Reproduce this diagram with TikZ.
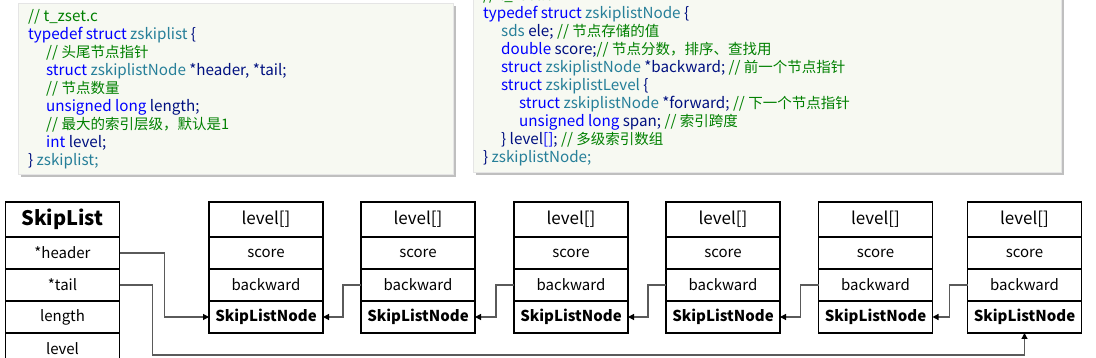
\documentclass[tikz,border=0pt]{standalone}
\usepackage{fontspec}
\setmainfont{Noto Sans CJK SC}
\usetikzlibrary{arrows.meta,positioning}

\definecolor{kwblue}{RGB}{0,0,255}
\definecolor{tyteal}{RGB}{38,127,153}
\definecolor{cmgreen}{RGB}{0,128,0}
\definecolor{idnavy}{RGB}{0,16,128}
\definecolor{codebg}{RGB}{247,249,242}
\definecolor{linkgray}{RGB}{90,90,90}

\newcommand{\kw}[1]{\textcolor{kwblue}{#1}}
\newcommand{\ty}[1]{\textcolor{tyteal}{#1}}
\newcommand{\cm}[1]{\textcolor{cmgreen}{#1}}
\newcommand{\id}[1]{\textcolor{idnavy}{#1}}
\newcommand{\zh}[1]{{\fontsize{14.5}{18}\selectfont #1}}

\begin{document}
\begin{tikzpicture}[x=1pt, y=-1pt,
    cell/.style={draw, line width=1.6pt, outer sep=0pt, inner sep=0pt, minimum width=114pt, minimum height=32pt, font=\fontsize{15}{18}\selectfont},
    head/.style={cell, minimum height=35pt, font=\fontsize{17}{20}\selectfont},
    code/.style={anchor=base west, inner sep=0pt, font=\fontsize{15.2}{18}\selectfont},
    arr/.style={draw=linkgray, line width=1.2pt, -{Triangle[length=6pt, width=6pt, color=black]}}
]
\useasboundingbox (0,0) rectangle (1096,358);

% code boxes
\fill[gray!50] (21,6) rectangle (456,177);
\fill[codebg, draw=gray!20] (18,3) rectangle (453,174);
\fill[gray!50] (476,-2) rectangle (1064,175);
\fill[codebg, draw=gray!20] (473,-5) rectangle (1061,172);

% zskiplist
\node[code] (zl1) at (28,22) {\cm{// t\_zset.c}};
\node[code] (zl2) at (28,40) {\kw{typedef struct} \ty{zskiplist} \id{\{}};
\node[code] (zl3) at (46,58) {\cm{// \zh{头尾节点指针}}};
\node[code] (zl4) at (46,76) {\kw{struct} \ty{zskiplistNode} \id{*header, *tail;}};
\node[code] (zl5) at (46,94) {\cm{// \zh{节点数量}}};
\node[code] (zl6) at (46,112) {\kw{unsigned long} \id{length;}};
\node[code] (zl7) at (46,130) {\cm{// \zh{最大的索引层级，默认是1}}};
\node[code] (zl8) at (46,148) {\kw{int} \id{level;}};
\node[code] (zl9) at (28,166) {\id{\}} \ty{zskiplist;}};

% zskiplistNode
\node[code] (zn0) at (483,1) {\cm{// t\_zset.c}};
\node[code] (zn1) at (483,19) {\kw{typedef struct} \ty{zskiplistNode} \id{\{}};
\node[code] (zn2) at (501,37) {\ty{sds} \id{ele;} \cm{// \zh{节点存储的值}}};
\node[code] (zn3) at (501,55) {\kw{double} \id{score;}\cm{// \zh{节点分数，排序、查找用}}};
\node[code] (zn4) at (501,73) {\kw{struct} \ty{zskiplistNode} \id{*backward;} \cm{// \zh{前一个节点指针}}};
\node[code] (zn5) at (501,91) {\kw{struct} \ty{zskiplistLevel} \id{\{}};
\node[code] (zn6) at (519,109) {\kw{struct} \ty{zskiplistNode} \id{*forward;} \cm{// \zh{下一个节点指针}}};
\node[code] (zn7) at (519,127) {\kw{unsigned long} \id{span;} \cm{// \zh{索引跨度}}};
\node[code] (zn8) at (501,145) {\id{\} level}\kw{[]}\id{;} \cm{// \zh{多级索引数组}}};
\node[code] (zn9) at (483,163) {\id{\}} \ty{zskiplistNode;}};

% SkipList
\node[head, font=\bfseries\fontsize{20}{24}\selectfont] (sl) at (62.5,219.5) {SkipList};
\node[cell, below=0pt of sl] (slh) {*header};
\node[cell, below=0pt of slh] (slt) {*tail};
\node[cell, below=0pt of slt] (sln) {length};
\node[cell, below=0pt of sln] (slv) {level};

% nodes
\foreach \i/\x in {1/266,2/418,3/571,4/723,5/875.5,6/1024.5} {
  \node[head] (lv\i) at (\x,219.5) {level[]};
  \node[cell, below=0pt of lv\i] (sc\i) {score};
  \node[cell, below=0pt of sc\i] (bw\i) {backward};
  \node[cell, below=0pt of bw\i, font=\bfseries\fontsize{15}{18}\selectfont] (nd\i) {SkipListNode};
}

\draw[arr] (slh.east) -- ++(45,0) |- (nd1.west);
\draw[arr] (slt.east) -- ++(33,0) -- ++(0,70) -| (nd6.south);
\foreach \i/\j in {2/1,3/2,4/3,5/4,6/5}
  \draw[arr] (bw\i.west) -- ++(-18,0) |- (nd\j.east);
\end{tikzpicture}
\end{document}
